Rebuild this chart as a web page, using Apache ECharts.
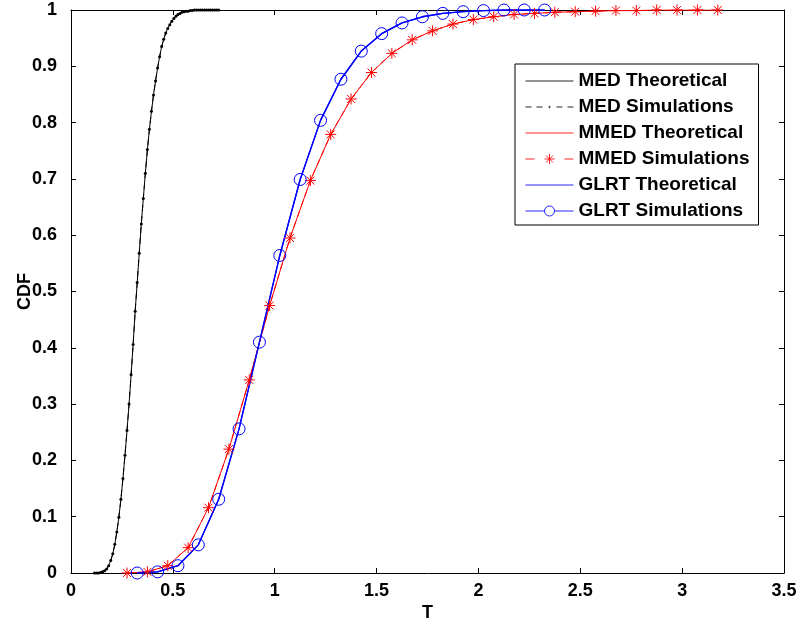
<!DOCTYPE html>
<html>
<head>
<meta charset="utf-8">
<script src="https://cdn.jsdelivr.net/npm/echarts@6/dist/echarts.min.js"></script>
<style>html,body{margin:0;padding:0;background:#fff}#c{width:801px;height:623px}</style>
</head>
<body>
<div id="c"></div>
<script>
// ---- data ----
var medT = [0.115,0.125,0.135,0.145,0.155,0.165,0.175,0.185,0.195,0.205,0.215,0.225,0.235,0.245,0.255,0.265,0.275,0.285,0.295,0.305,0.315,0.325,0.335,0.345,0.355,0.365,0.375,0.385,0.395,0.405,0.415,0.425,0.435,0.445,0.455,0.465,0.475,0.485,0.495,0.505,0.515,0.525,0.535,0.545,0.555,0.565,0.575,0.585,0.595,0.605,0.615,0.625,0.635,0.645,0.655,0.665,0.675,0.685,0.695,0.705,0.715,0.725];
var medCDF = [0.000,0.000,0.000,0.001,0.002,0.004,0.007,0.013,0.022,0.034,0.051,0.073,0.099,0.131,0.168,0.209,0.253,0.300,0.352,0.406,0.465,0.516,0.568,0.620,0.665,0.710,0.752,0.788,0.820,0.849,0.874,0.897,0.917,0.935,0.948,0.959,0.967,0.974,0.980,0.985,0.989,0.992,0.994,0.996,0.997,0.998,0.998,0.999,0.999,1.000,1.000,1.000,1.000,1.000,1.000,1.000,1.000,1.000,1.000,1.000,1.000,1.000];

var mmedT = [0.275,0.375,0.475,0.575,0.675,0.775,0.875,0.975,1.075,1.175,1.275,1.375,1.475,1.575,1.675,1.775,1.875,1.975,2.075,2.175,2.275,2.375,2.475,2.575,2.675,2.775,2.875,2.975,3.075,3.175];
var mmedCDF = [0.000,0.002,0.013,0.045,0.116,0.220,0.343,0.475,0.595,0.697,0.779,0.842,0.889,0.923,0.947,0.963,0.975,0.983,0.988,0.992,0.994,0.996,0.997,0.998,0.999,0.999,1.000,1.000,1.000,1.000];

var glrtT = [0.325,0.425,0.525,0.625,0.725,0.825,0.925,1.025,1.125,1.225,1.325,1.425,1.525,1.625,1.725,1.825,1.925,2.025,2.125,2.225,2.325];
var glrtCDF = [0.000,0.002,0.013,0.050,0.131,0.256,0.410,0.564,0.699,0.804,0.877,0.927,0.958,0.977,0.988,0.994,0.997,0.999,1.000,1.000,1.000];

var seriesNames = ['MED Theoretical','MED Simulations','MMED Theoretical','MMED Simulations','GLRT Theoretical','GLRT Simulations'];
var xTicks = {min:0, max:3.5, interval:0.5};
var yTicks = {min:0, max:1, interval:0.1};

function pairs(xs, ys){ return xs.map(function(x,i){return [x, ys[i]];}); }

var starPath = 'path://M0,-5L0,5M-5,0L5,0M-3.6,-3.6L3.6,3.6M-3.6,3.6L3.6,-3.6';
var FONT = '"Liberation Sans", Arial, Helvetica, sans-serif';

// legend icons (48 x 14 box, stroked)
var BOX = 'M0,0M48,14';
var iconSolid = 'path://' + BOX + 'M0,7L48,7';
var iconDotDash = 'path://' + BOX + 'M0,7L6,7M11,7L17,7M31,7L37,7M42,7L48,7M23.3,7A0.7,0.7 0 1,1 24.7,7A0.7,0.7 0 1,1 23.3,7';
var iconStarDash = 'path://' + BOX + 'M0,7L9,7M39,7L48,7M24,2L24,12M19,7L29,7M20.5,3.5L27.5,10.5M27.5,3.5L20.5,10.5';
var iconCircle = 'path://' + BOX + 'M0,7L19,7M29,7L48,7M29,7A5,5 0 1,1 19,7A5,5 0 1,1 29,7';
function legendItem(name, icon, color){
  return {name:name, icon:icon, itemStyle:{color:'rgba(0,0,0,0)', borderColor:color, borderWidth:1, opacity:0.85}};
}

var chart = echarts.init(document.getElementById('c'), null, {renderer:'canvas'});
var axisCommon = {
  axisLine:{show:true, onZero:false, lineStyle:{color:'#000', width:1}},
  axisTick:{show:true, inside:true, length:5, lineStyle:{color:'#000', width:1}},
  splitLine:{show:false}
};
chart.setOption({
  animation:false,
  backgroundColor:'#fff',
  textStyle:{fontFamily:FONT},
  grid:{left:71, right:17, top:10, bottom:50, containLabel:false, outerBoundsMode:'none'},
  legend:{
    orient:'vertical', left:515, top:64,
    data:[
      legendItem(seriesNames[0], iconSolid, '#000'),
      legendItem(seriesNames[1], iconDotDash, '#000'),
      legendItem(seriesNames[2], iconSolid, '#ff0000'),
      legendItem(seriesNames[3], iconStarDash, '#ff0000'),
      legendItem(seriesNames[4], iconSolid, '#0000ff'),
      legendItem(seriesNames[5], iconCircle, '#0000ff')
    ],
    itemWidth:48, itemHeight:14, itemGap:6, symbolKeepAspect:true,
    padding:[7,9,4,10],
    borderColor:'#000', borderWidth:1, backgroundColor:'#fff',
    textStyle:{fontFamily:FONT, fontWeight:'bold', fontSize:19, color:'#000', lineHeight:20},
    selectedMode:false
  },
  xAxis:[
    Object.assign({type:'value', position:'bottom', min:xTicks.min, max:xTicks.max, interval:xTicks.interval,
      name:'T', nameLocation:'middle', nameGap:31, nameMoveOverlap:false,
      nameTextStyle:{fontFamily:FONT, fontWeight:'bold', fontSize:18, color:'#000'},
      axisLabel:{fontFamily:FONT, fontWeight:'bold', fontSize:18, color:'#000', margin:9}}, axisCommon),
    Object.assign({type:'value', position:'top', min:xTicks.min, max:xTicks.max, interval:xTicks.interval,
      axisLabel:{show:false}}, axisCommon)
  ],
  yAxis:[
    Object.assign({type:'value', position:'left', min:yTicks.min, max:yTicks.max, interval:yTicks.interval,
      name:'CDF', nameLocation:'middle', nameGap:37, nameRotate:90, nameMoveOverlap:false,
      nameTextStyle:{fontFamily:FONT, fontWeight:'bold', fontSize:18, color:'#000'},
      axisLabel:{fontFamily:FONT, fontWeight:'bold', fontSize:18, color:'#000', margin:14}}, axisCommon),
    Object.assign({type:'value', position:'right', min:yTicks.min, max:yTicks.max, interval:yTicks.interval,
      axisLabel:{show:false}}, axisCommon)
  ],
  series:[
    {name:seriesNames[0], type:'line', data:pairs(medT, medCDF), showSymbol:false, symbol:'none',
      lineStyle:{color:'#000', width:1}, itemStyle:{color:'#000'}, z:3},
    {name:seriesNames[1], type:'line', data:pairs(medT, medCDF), symbol:'circle', symbolSize:3,
      lineStyle:{color:'#000', width:1, type:[6,5]}, itemStyle:{color:'#000'}, z:4},
    {name:seriesNames[2], type:'line', data:pairs(mmedT, mmedCDF), showSymbol:false, symbol:'none',
      lineStyle:{color:'#ff0000', width:1}, itemStyle:{color:'#ff0000'}, z:3},
    {name:seriesNames[3], type:'line', data:pairs(mmedT, mmedCDF), symbol:starPath, symbolSize:11, symbolKeepAspect:true,
      lineStyle:{color:'#ff0000', width:1, type:[6,5]}, itemStyle:{color:'#ff0000', borderColor:'#ff0000', borderWidth:1}, z:4},
    {name:seriesNames[4], type:'line', data:pairs(glrtT, glrtCDF), showSymbol:false, symbol:'none',
      lineStyle:{color:'#0000ff', width:1.3}, itemStyle:{color:'#0000ff'}, z:3},
    {name:seriesNames[5], type:'line', data:pairs(glrtT, glrtCDF), symbol:'circle', symbolSize:12,
      lineStyle:{color:'#0000ff', width:1.3}, itemStyle:{color:'rgba(0,0,0,0)', borderColor:'#0000ff', borderWidth:1}, z:4}
  ]
});
</script>
</body>
</html>
